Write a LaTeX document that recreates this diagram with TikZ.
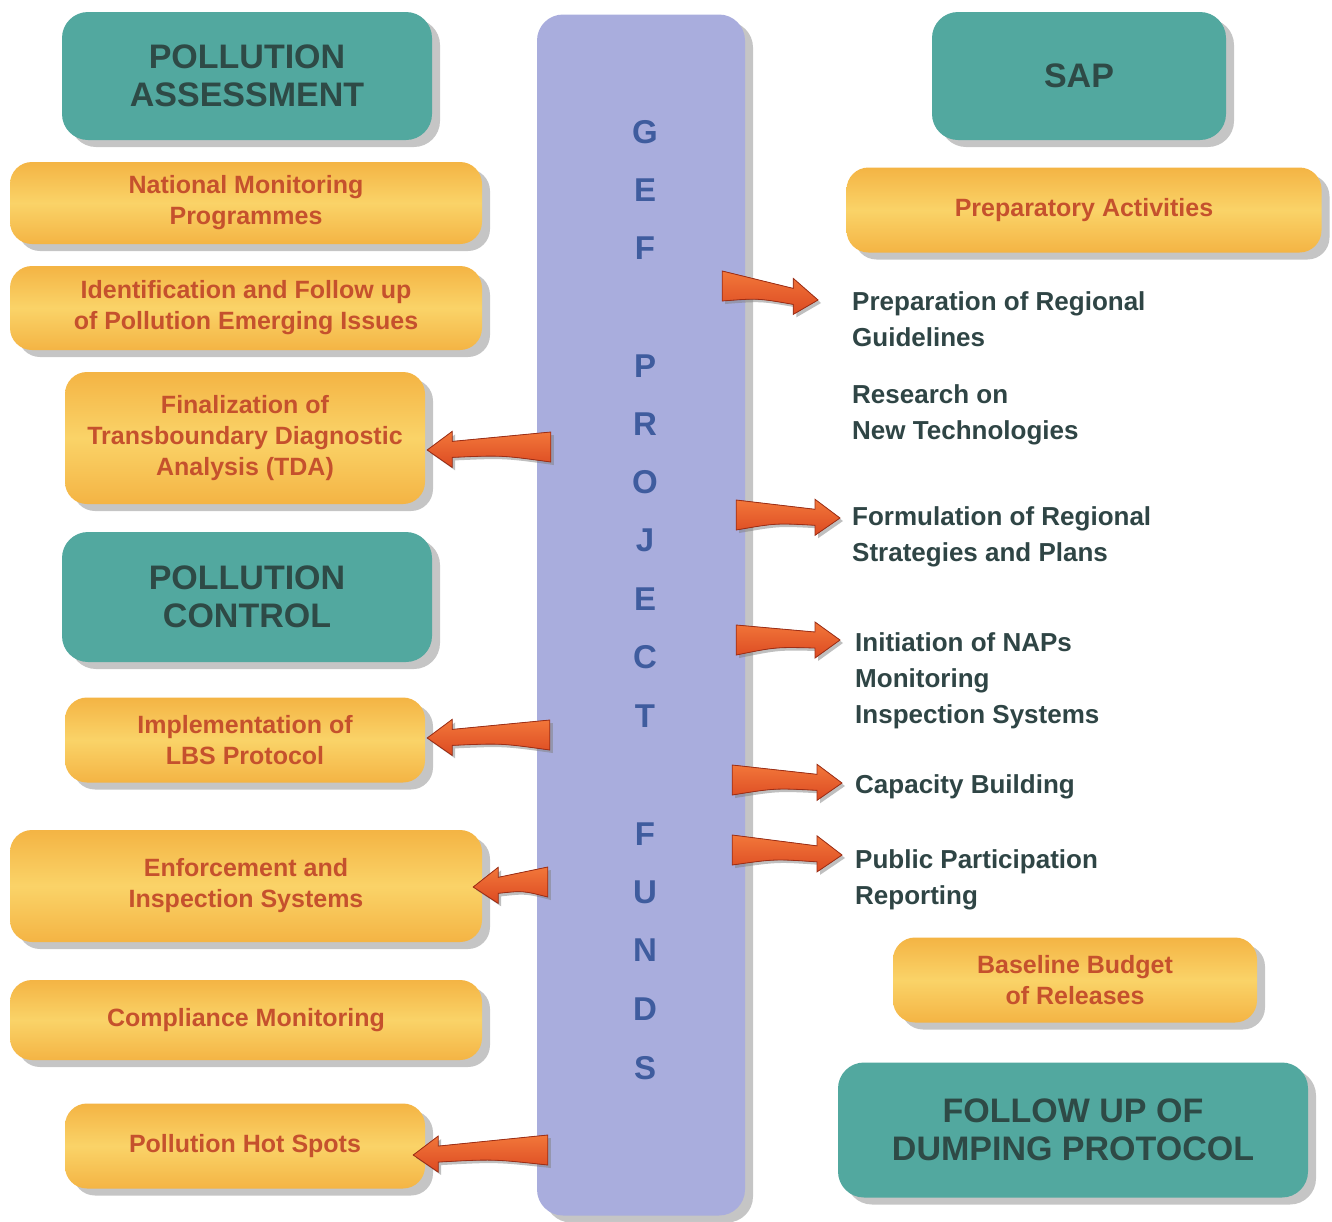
\documentclass[tikz,border=0pt]{standalone}
\usepackage{fontspec}
\setmainfont{Liberation Sans}
\usetikzlibrary{calc, shadows}

\definecolor{tealbox}{HTML}{52A89F}
\definecolor{tealtext}{HTML}{2E4A46}
\definecolor{orangeedge}{HTML}{F4B444}
\definecolor{orangemid}{HTML}{FAD368}
\definecolor{orangetext}{HTML}{C5512D}
\definecolor{gefbox}{HTML}{A9ADDD}
\definecolor{geftext}{HTML}{3F5C9E}
\definecolor{arrowlight}{HTML}{F2773A}
\definecolor{arrowred}{HTML}{DC4A22}
\definecolor{arrowdark}{HTML}{9E2E16}
\definecolor{righttext}{HTML}{2F4545}

% tapered arrow from the GEF column to a box
\newcommand{\gefarrow}[2]{%
  \coordinate (arrtail) at (#1);
  \coordinate (arrtip)  at (#2);
  \coordinate (arrneck) at ($(arrtip)!25pt!(arrtail)$);
  \coordinate (arrmid)  at ($(arrtail)!0.5!(arrneck)$);
  \filldraw[fatarrow] ($(arrtail)+(0,15pt)$) .. controls ($(arrmid)+(0,12pt)$) .. ($(arrneck)+(0,8pt)$)
    -- ($(arrneck)+(0,18pt)$) -- (arrtip) -- ($(arrneck)+(0,-18pt)$) -- ($(arrneck)+(0,-8pt)$)
    .. controls ($(arrmid)+(0,-7pt)$) .. ($(arrtail)+(0,-15pt)$) -- cycle;
}

\begin{document}
\begin{tikzpicture}[x=1pt, y=-1pt]

  \tikzstyle{boxshadow} = [drop shadow={shadow xshift=8pt, shadow yshift=-7pt, opacity=0.45}];
  \tikzstyle{head} = [rectangle, rounded corners=26pt, fill=tealbox, boxshadow, text=tealtext, align=center, font=\fontsize{34}{38}\selectfont\bfseries];
  \tikzstyle{task} = [rectangle, rounded corners=22pt, top color=orangeedge, bottom color=orangeedge, middle color=orangemid, boxshadow, text=orangetext, align=center, font=\fontsize{25}{31}\selectfont\bfseries];
  \tikzstyle{column} = [rectangle, rounded corners=26pt, fill=gefbox, boxshadow];
  \tikzstyle{letter} = [text=geftext, font=\fontsize{33}{33}\selectfont\bfseries];
  \tikzstyle{output} = [anchor=north west, inner sep=0pt, text=righttext, align=left, font=\fontsize{26}{36}\selectfont\bfseries];
  \tikzstyle{fatarrow} = [top color=arrowlight, bottom color=arrowred, draw=arrowdark, line width=0.8pt, drop shadow={shadow xshift=3pt, shadow yshift=-3pt, opacity=0.5}];

  \fill[white] (0,0) rectangle (1332,1221);
  \useasboundingbox (0,0) rectangle (1332,1221);

  % GEF column
  \node [column, minimum width=208pt, minimum height=1201pt] (gef) at (641,615) {};
  \foreach \letter/\y [count=\i] in {G/132, E/190, F/248, P/366, R/424, O/482, J/540, E/599, C/657, T/716, F/834, U/892, N/950, D/1009, S/1068}
    \node [letter] (l\i) at (645,\y) {\letter};

  % left side
  \node [head, minimum width=370pt, minimum height=128pt] (assess)  at (247,76)   {POLLUTION\\ASSESSMENT};
  \node [task, minimum width=472pt, minimum height=82pt]  (natmon)  at (246,203)  {National Monitoring\\Programmes};
  \node [task, minimum width=472pt, minimum height=84pt]  (emerge)  at (246,308)  {Identification and Follow up\\of Pollution Emerging Issues};
  \node [task, minimum width=360pt, minimum height=132pt] (tda)     at (245,438)  {Finalization of\\Transboundary Diagnostic\\Analysis (TDA)};
  \node [head, minimum width=370pt, minimum height=130pt] (control) at (247,597)  {POLLUTION\\CONTROL};
  \node [task, minimum width=360pt, minimum height=85pt]  (lbs)     at (245,740)  {Implementation of\\LBS Protocol};
  \node [task, minimum width=472pt, minimum height=112pt] (enforce) at (246,886)  {Enforcement and\\Inspection Systems};
  \node [task, minimum width=472pt, minimum height=80pt]  (comply)  at (246,1020) {Compliance Monitoring};
  \node [task, minimum width=360pt, minimum height=85pt]  (hotspot) at (245,1146) {Pollution Hot Spots};

  % right side
  \node [head, minimum width=294pt, minimum height=128pt] (sap)     at (1079,76)   {SAP};
  \node [task, minimum width=475pt, minimum height=85pt]  (prepact) at (1084,210)  {Preparatory Activities};
  \node [output] (guide)    at (852,291) {Preparation of Regional\\Guidelines};
  \node [output] (research) at (852,384) {Research on\\New Technologies};
  \node [output] (strategy) at (852,506) {Formulation of Regional\\Strategies and Plans};
  \node [output] (naps)     at (855,632) {Initiation of NAPs\\Monitoring\\Inspection Systems};
  \node [output] (capacity) at (855,774) {Capacity Building};
  \node [output] (public)   at (855,849) {Public Participation\\Reporting};
  \node [task, minimum width=364pt, minimum height=85pt]  (budget)  at (1075,980)  {Baseline Budget\\of Releases};
  \node [head, minimum width=470pt, minimum height=135pt] (dumping) at (1073,1130) {FOLLOW UP OF\\DUMPING PROTOCOL};

  % arrows to the left
  \gefarrow{$(gef.west|-tda.east)+(14pt,-9pt)$}{$(tda.east)+(2pt,-12pt)$}
  \gefarrow{$(gef.west|-lbs.east)+(13pt,5pt)$}{$(lbs.east)+(2pt,2pt)$}
  \gefarrow{$(gef.west|-enforce.east)+(11pt,4pt)$}{$(enforce.east)+(-9pt,-1pt)$}
  \gefarrow{$(gef.west|-hotspot.east)+(11pt,-4pt)$}{$(hotspot.east)+(-12pt,-9pt)$}

  % arrows to the right
  \gefarrow{$(gef.east|-guide.north)+(-23pt,5pt)$}{$(guide.north west)+(-34pt,-9pt)$}
  \gefarrow{$(gef.east|-strategy.north)+(-9pt,-9pt)$}{$(strategy.north west)+(-12pt,-12pt)$}
  \gefarrow{$(gef.east|-naps.north)+(-9pt,-8pt)$}{$(naps.north west)+(-15pt,-8pt)$}
  \gefarrow{$(gef.east|-capacity.north)+(-13pt,-6pt)$}{$(capacity.north west)+(-13pt,-9pt)$}
  \gefarrow{$(gef.east|-public.north)+(-13pt,-1pt)$}{$(public.north west)+(-13pt,-6pt)$}

\end{tikzpicture}
\end{document}
